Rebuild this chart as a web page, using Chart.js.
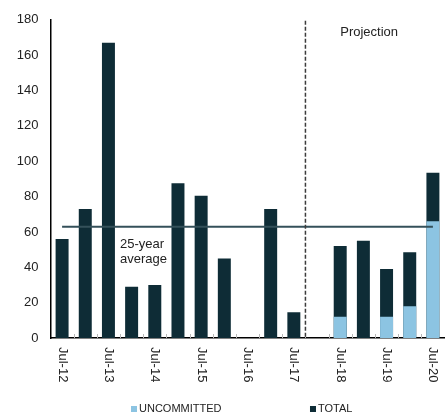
<!DOCTYPE html>
<html>
<head>
<meta charset="utf-8">
<script src="https://cdn.jsdelivr.net/npm/chart.js@4.4.1/dist/chart.umd.min.js"></script>
<style>
  html, body { margin: 0; padding: 0; background: #ffffff; }
  #wrap { width: 448px; height: 414px; }
</style>
</head>
<body>
<div id="wrap"><canvas id="chart" width="448" height="414"></canvas></div>
<script>
// Half-yearly periods
const categories = ['Jul-12','Jan-13','Jul-13','Jan-14','Jul-14','Jan-15','Jul-15','Jan-16','Jul-16',
                    'Jan-17','Jul-17','Jan-18','Jul-18','Jan-19','Jul-19','Jan-20','Jul-20'];
// Only the July periods carry an axis label
const tickLabels = ['Jul-12','','Jul-13','','Jul-14','','Jul-15','','Jul-16',
                    '','Jul-17','','Jul-18','','Jul-19','','Jul-20'];
const totalValues = [56, 73, 167, 29, 30, 87.5, 80.5, 45, 0, 73, 14.5, null, 52, 55, 39, 48.5, 93.5];
const uncommittedValues = [null, null, null, null, null, null, null, null, null, null, null, null, 12, 0, 12, 18, 66];
const average25y = 63;
const projectionStart = 'Jan-18';
const yTicks = [0, 20, 40, 60, 80, 100, 120, 140, 160, 180];

const FONT = '"Liberation Sans", Arial, Helvetica, sans-serif';
const DARK = '#0e2c36';
const LIGHT = '#8cc4e2';
const TEXT = '#222222';

Chart.defaults.font.family = FONT;
Chart.defaults.color = TEXT;

const extras = {
  id: 'extras',
  afterDatasetsDraw(chart) {
    const { ctx, chartArea: area, scales: { x, y } } = chart;
    ctx.save();

    // small inward ticks between periods
    ctx.strokeStyle = '#b8b8b8';
    ctx.lineWidth = 1;
    for (let i = 0; i < categories.length - 1; i++) {
      const px = Math.round((x.getPixelForValue(i) + x.getPixelForValue(i + 1)) / 2) + 0.5;
      ctx.beginPath();
      ctx.moveTo(px, area.bottom - 4);
      ctx.lineTo(px, area.bottom);
      ctx.stroke();
    }

    // projection divider
    const pIdx = categories.indexOf(projectionStart);
    const divX = (x.getPixelForValue(pIdx - 1) + x.getPixelForValue(pIdx)) / 2;
    ctx.strokeStyle = '#3c3c3c';
    ctx.lineWidth = 1.5;
    ctx.setLineDash([4, 2]);
    ctx.beginPath();
    ctx.moveTo(divX, area.top + 1);
    ctx.lineTo(divX, area.bottom);
    ctx.stroke();
    ctx.setLineDash([]);

    ctx.fillStyle = TEXT;
    ctx.font = '13px ' + FONT;
    ctx.textAlign = 'left';
    ctx.textBaseline = 'middle';
    ctx.fillText('Projection', x.getPixelForValue(pIdx + 1), area.top + 13);

    // average label
    const avgY = y.getPixelForValue(average25y);
    const avgX = (x.getPixelForValue(2) + x.getPixelForValue(3)) / 2;
    ctx.textBaseline = 'alphabetic';
    ctx.fillText('25-year', avgX, avgY + 21);
    ctx.fillText('average', avgX, avgY + 36);

    // rotated period labels
    tickLabels.forEach((lab, i) => {
      if (!lab) return;
      ctx.save();
      ctx.translate(x.getPixelForValue(i), area.bottom + 9);
      ctx.rotate(Math.PI / 2);
      ctx.textAlign = 'left';
      ctx.textBaseline = 'middle';
      ctx.fillText(lab, 0, 0);
      ctx.restore();
    });

    // legend row
    const items = chart.data.datasets.filter(d => d.type !== 'line');
    ctx.font = '11px ' + FONT;
    ctx.textBaseline = 'middle';
    let lx = 131;
    const ly = 409;
    items.forEach(d => {
      ctx.fillStyle = d.backgroundColor;
      ctx.fillRect(lx, ly - 3, 6, 6);
      ctx.fillStyle = TEXT;
      ctx.fillText(d.label, lx + 8, ly);
      lx += 8 + ctx.measureText(d.label).width + 88.5;
    });

    ctx.restore();
  }
};

new Chart(document.getElementById('chart'), {
  data: {
    labels: categories,
    datasets: [
      {
        type: 'line',
        label: '25-year average',
        data: categories.map(() => average25y),
        borderColor: '#34505a',
        borderWidth: 2,
        pointRadius: 0,
        order: -1
      },
      {
        type: 'bar',
        label: 'UNCOMMITTED',
        data: uncommittedValues,
        backgroundColor: LIGHT,
        barPercentage: 0.56,
        categoryPercentage: 1,
        order: 0
      },
      {
        type: 'bar',
        label: 'TOTAL',
        data: totalValues,
        backgroundColor: DARK,
        barPercentage: 0.56,
        categoryPercentage: 1,
        order: 1
      }
    ]
  },
  options: {
    responsive: false,
    animation: false,
    devicePixelRatio: 1,
    layout: { padding: { top: 18, right: 3.5, bottom: 0, left: 0 } },
    plugins: {
      legend: { display: false },
      tooltip: { enabled: false }
    },
    scales: {
      x: {
        stacked: true,
        grid: { display: false },
        border: { display: true, color: '#000000', width: 1.5 },
        ticks: { display: false },
        afterFit(scale) { scale.height = 76; }
      },
      y: {
        stacked: false,
        min: 0,
        max: 180,
        afterBuildTicks(scale) { scale.ticks = yTicks.map(v => ({ value: v })); },
        grid: { display: false, drawTicks: false },
        border: { display: true, color: '#000000', width: 1.5 },
        ticks: { font: { size: 13 }, color: TEXT, padding: 12 },
        afterFit(scale) { scale.width = 50.5; }
      }
    }
  },
  plugins: [extras]
});
</script>
</body>
</html>
